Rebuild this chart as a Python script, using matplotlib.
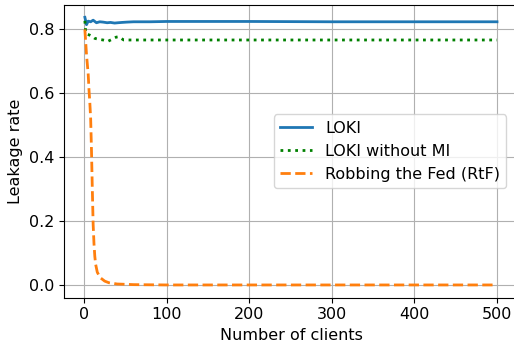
import matplotlib
matplotlib.use("Agg")
import matplotlib.pyplot as plt

# LOKI
loki_x = [1, 3, 5, 8, 11, 15, 19, 23, 28, 32, 37, 41, 46, 52, 60, 80, 100, 150, 200, 300, 400, 500]
loki_y = [0.838, 0.815, 0.826, 0.824, 0.829, 0.821, 0.824, 0.823, 0.821, 0.822, 0.820, 0.821, 0.822,
          0.823, 0.824, 0.824, 0.825, 0.825, 0.825, 0.824, 0.824, 0.824]

# LOKI without MI
nomi_x = [1, 2, 4, 7, 10, 13, 18, 23, 29, 33, 36, 39, 42, 45, 48, 55, 100, 200, 300, 400, 500]
nomi_y = [0.827, 0.789, 0.785, 0.782, 0.778, 0.772, 0.769, 0.767, 0.763, 0.768, 0.772, 0.776, 0.777,
          0.772, 0.767, 0.767, 0.767, 0.767, 0.767, 0.767, 0.767]

# Robbing the Fed (RtF)
rtf_x = [1, 2, 3, 4, 5, 6, 7, 8, 9, 10, 11, 12, 13, 14, 16, 18, 20, 25, 30, 40, 50, 60, 100, 200, 300, 400, 500]
rtf_y = [0.80, 0.76, 0.72, 0.69, 0.66, 0.61, 0.57, 0.52, 0.42, 0.30, 0.19, 0.13, 0.09, 0.065, 0.04,
         0.03, 0.022, 0.012, 0.007, 0.003, 0.002, 0.001, 0.0, 0.0, 0.0, 0.0, 0.0]

plt.rcParams['font.size'] = 11.5

fig = plt.figure(figsize=(5.14, 3.47), dpi=100)
ax = fig.add_axes([0.1245, 0.142, 0.885, 0.844])

ax.plot(loki_x, loki_y, color='tab:blue', lw=2, label='LOKI')
ax.plot(nomi_x, nomi_y, color='green', lw=2, ls=':', label='LOKI without MI')
ax.plot(rtf_x, rtf_y, color='tab:orange', lw=2, ls='--', label='Robbing the Fed (RtF)')

ax.set_xlim(-24.3, 526.5)
ax.set_ylim(-0.040, 0.877)
ax.set_xticks([0, 100, 200, 300, 400, 500])
ax.set_yticks([0.0, 0.2, 0.4, 0.6, 0.8])
ax.set_xlabel('Number of clients')
ax.set_ylabel('Leakage rate')
ax.grid(True)
ax.legend(loc='center right', bbox_to_anchor=(0.99, 0.5))

fig.savefig('out.png', dpi=100)
